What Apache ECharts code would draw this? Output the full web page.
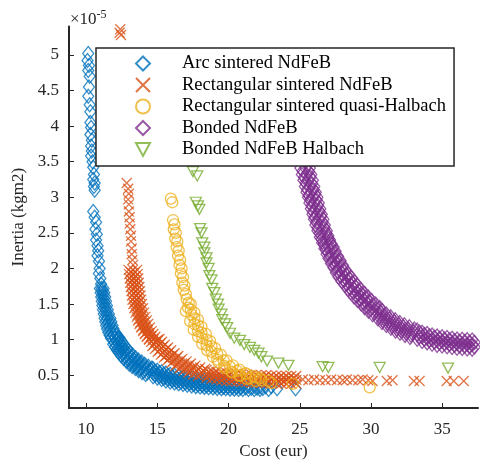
<!DOCTYPE html>
<html><head><meta charset="utf-8">
<script src="https://cdn.jsdelivr.net/npm/echarts@6/dist/echarts.min.js"></script>
<style>html,body{margin:0;padding:0;background:#fff}#c{width:480px;height:460px}</style>
</head><body><div id="c"></div>
<script>
const seriesNames = ['Arc sintered NdFeB','Rectangular sintered NdFeB','Rectangular sintered quasi-Halbach','Bonded NdFeB','Bonded NdFeB Halbach'];
const xTicks = [10,15,20,25,30,35];
const yTicks = [0.5,1,1.5,2,2.5,3,3.5,4,4.5,5];

const arcSintered = [
[10.15,5.02],[10.1,4.92],[10.2,4.85],[10.15,4.78],[10.25,4.7],[10.2,4.55],[10.15,4.42],[10.25,4.3],[10.3,4.2],[10.3,4.05],[10.35,3.98],[10.3,3.88],[10.4,3.8],[10.35,3.72],[10.4,3.65],[10.35,3.58],[10.45,3.5],[10.5,3.42],[10.55,3.32],[10.5,3.25],[10.6,3.2],[10.55,3.15],[10.6,3.1],[10.5,2.8],[10.6,2.72],[10.7,2.65],[10.65,2.55],[10.75,2.48],[10.7,2.4],[10.8,2.32],[10.85,2.25],[10.8,2.18],[10.9,2.1],[10.95,2.0],[10.9,1.93],[11.0,1.86],[11.05,1.78],
[11.1,1.72],[11.15,1.66],[11.2,1.6],[11.25,1.54],[11.3,1.48],[11.35,1.42],[11.42,1.36],[11.5,1.3],[11.56,1.25],[11.63,1.2],[11.7,1.15],[11.8,1.1],[11.9,1.06],[12.0,1.02],
[10.97,1.72],[11.02,1.66],[11.06,1.6],[11.1,1.54],[11.14,1.48],[11.18,1.42],[11.24,1.36],[11.3,1.3],[11.35,1.25],[11.41,1.2],[11.47,1.15],[11.56,1.1],[11.65,1.06],[11.75,1.02],
[11.23,1.72],[11.28,1.66],[11.34,1.6],[11.4,1.54],[11.46,1.48],[11.52,1.42],[11.6,1.36],[11.7,1.3],[11.77,1.25],[11.85,1.2],[11.93,1.15],[12.04,1.1],[12.15,1.06],[12.25,1.02],
[12.12,0.98],[12.25,0.94],[12.38,0.9],[12.52,0.86],[12.68,0.82],[12.85,0.78],[13.05,0.74],[13.25,0.7],[13.45,0.67],[13.68,0.64],[13.9,0.61],[14.15,0.58],[14.4,0.555],
[11.9,0.935],[12.03,0.895],[12.16,0.855],[12.3,0.815],[12.46,0.775],[12.63,0.735],[12.83,0.695],[13.03,0.655],[13.23,0.625],[13.46,0.595],[13.68,0.565],[13.93,0.535],[14.18,0.51],
[12.34,1.025],[12.47,0.985],[12.6,0.945],[12.74,0.905],[12.9,0.865],[13.07,0.825],[13.27,0.785],[13.47,0.745],[13.67,0.715],[13.9,0.685],[14.12,0.655],[14.37,0.625],[14.62,0.6],
[12.01,0.958],[12.14,0.918],[12.27,0.878],[12.41,0.838],[12.57,0.798],[12.74,0.758],[12.94,0.718],[13.14,0.678],[13.34,0.648],[13.57,0.618],[13.79,0.588],[14.04,0.558],[14.29,0.533],
[12.23,1.002],[12.36,0.962],[12.49,0.922],[12.63,0.882],[12.79,0.842],[12.96,0.802],[13.16,0.762],[13.36,0.722],[13.56,0.692],[13.79,0.662],[14.01,0.632],[14.26,0.602],[14.51,0.577],
[14.7,0.53],[15.0,0.51],[15.3,0.49],[15.6,0.47],[15.9,0.455],[16.2,0.44],[16.5,0.43],[16.8,0.42],[17.1,0.41],[17.4,0.4],[17.7,0.39],[18.0,0.385],[18.3,0.38],[18.6,0.375],[18.9,0.37],[19.2,0.365],[19.5,0.36],[19.8,0.36],[20.1,0.355],[20.4,0.355],[20.7,0.35],[21.0,0.35],[21.4,0.345],[21.8,0.345],[22.2,0.34],[22.6,0.34],[23.0,0.34],
[14.7,0.48],[15.0,0.46],[15.3,0.44],[15.6,0.42],[15.9,0.405],[16.2,0.39],[16.5,0.38],[16.8,0.37],[17.1,0.36],[17.4,0.35],[17.7,0.34],[18.0,0.335],[18.3,0.33],[18.6,0.325],[18.9,0.32],[19.2,0.315],[19.5,0.31],[19.8,0.31],[20.1,0.305],[20.4,0.305],[20.7,0.3],[21.0,0.3],[21.4,0.3],[21.8,0.3],[22.2,0.3],[22.8,0.3],[23.4,0.31],[24.7,0.31],
[14.7,0.59],[15.0,0.57],[15.3,0.55],[15.6,0.53],[15.9,0.515],[16.2,0.5],[16.5,0.49],[16.8,0.48],[17.1,0.47],[17.4,0.46],[17.7,0.45],[18.0,0.44],[18.3,0.435],[18.6,0.43],[18.9,0.425],[19.2,0.42],[19.5,0.415],[19.8,0.41],[20.1,0.41],[20.4,0.405],[20.7,0.4],[21.0,0.4],
[14.85,0.503],[15.15,0.483],[15.45,0.463],[15.75,0.443],[16.05,0.428],[16.35,0.413],[16.65,0.403],[16.95,0.393],[17.25,0.383],[17.55,0.373],[17.85,0.363],[18.15,0.358],[18.45,0.353],[18.75,0.348],[19.05,0.343],[19.35,0.338],[19.65,0.333],[19.95,0.333],[20.25,0.328],[20.55,0.328],[20.85,0.323],[21.2,0.323],[21.6,0.318],[22.0,0.318],[22.4,0.313],
[14.85,0.557],[15.15,0.537],[15.45,0.517],[15.75,0.497],[16.05,0.482],[16.35,0.467],[16.65,0.457],[16.95,0.447],[17.25,0.437],[17.55,0.427],[17.85,0.417],[18.15,0.412],[18.45,0.407],[18.75,0.402]
];

const rectSintered = [
[12.4,5.36],[12.45,5.28],[12.35,5.31],
[12.85,3.2],[12.95,3.12],[13.0,3.05],[12.95,2.97],[13.0,2.9],[13.0,2.8],[13.05,2.72],[13.05,2.63],[13.1,2.55],[13.15,2.46],[13.15,2.38],[13.2,2.28],[13.2,2.2],[13.25,2.12],[13.3,2.05],
[13.28,1.98],[13.32,1.92],[13.36,1.86],[13.4,1.8],[13.44,1.74],[13.48,1.68],[13.52,1.62],[13.56,1.56],[13.62,1.5],[13.69,1.44],[13.77,1.38],[13.86,1.32],[13.95,1.27],[14.05,1.22],[14.17,1.17],[14.3,1.12],[14.42,1.08],[14.56,1.04],[14.72,1.0],
[12.98,1.98],[13.02,1.92],[13.06,1.86],[13.1,1.8],[13.14,1.74],[13.18,1.68],[13.22,1.62],[13.26,1.56],[13.32,1.5],[13.39,1.44],[13.47,1.38],[13.56,1.32],[13.65,1.27],[13.75,1.22],[13.87,1.17],[14.0,1.12],[14.12,1.08],[14.26,1.04],[14.42,1.0],
[13.58,1.98],[13.62,1.92],[13.66,1.86],[13.7,1.8],[13.74,1.74],[13.78,1.68],[13.82,1.62],[13.86,1.56],[13.92,1.5],[13.99,1.44],[14.07,1.38],[14.16,1.32],[14.25,1.27],[14.35,1.22],[14.47,1.17],[14.6,1.12],[14.72,1.08],[14.86,1.04],[15.02,1.0],
[13.13,1.95],[13.17,1.89],[13.21,1.83],[13.25,1.77],[13.29,1.71],[13.33,1.65],[13.37,1.59],[13.41,1.53],[13.47,1.47],[13.54,1.41],[13.62,1.35],[13.71,1.29],[13.8,1.24],[13.9,1.19],[14.02,1.14],[14.15,1.09],[14.27,1.05],[14.41,1.01],[14.57,0.97],
[13.43,1.95],[13.47,1.89],[13.51,1.83],[13.55,1.77],[13.59,1.71],[13.63,1.65],[13.67,1.59],[13.71,1.53],[13.77,1.47],[13.84,1.41],[13.92,1.35],[14.01,1.29],[14.1,1.24],[14.2,1.19],[14.32,1.14],[14.45,1.09],[14.57,1.05],[14.71,1.01],[14.87,0.97],
[14.9,0.96],[15.08,0.92],[15.28,0.88],[15.5,0.84],[15.72,0.8],[15.96,0.76],[16.22,0.72],[16.5,0.68],[16.8,0.645],[17.1,0.615],[17.42,0.585],[17.75,0.56],[18.1,0.54],
[14.65,0.91],[14.83,0.87],[15.03,0.83],[15.25,0.79],[15.47,0.75],[15.71,0.71],[15.97,0.67],[16.25,0.63],[16.55,0.595],[16.85,0.565],[17.17,0.535],[17.5,0.51],[17.85,0.49],
[15.15,1.01],[15.33,0.97],[15.53,0.93],[15.75,0.89],[15.97,0.85],[16.21,0.81],[16.47,0.77],[16.75,0.73],[17.05,0.695],[17.35,0.665],[17.67,0.635],[18.0,0.61],[18.35,0.59],
[14.78,0.935],[14.96,0.895],[15.16,0.855],[15.38,0.815],[15.6,0.775],[15.84,0.735],[16.1,0.695],[16.38,0.655],[16.68,0.62],[16.98,0.59],[17.3,0.56],[17.63,0.535],[17.98,0.515],
[15.02,0.985],[15.2,0.945],[15.4,0.905],[15.62,0.865],[15.84,0.825],[16.08,0.785],[16.34,0.745],[16.62,0.705],[16.92,0.67],[17.22,0.64],[17.54,0.61],[17.87,0.585],[18.22,0.565],
[18.45,0.52],[18.8,0.505],[19.15,0.495],[19.5,0.485],[19.85,0.475],[20.2,0.47],[20.55,0.465],[20.9,0.46],[21.25,0.455],[21.6,0.45],[21.95,0.45],[22.3,0.445],[22.65,0.445],[23.0,0.44],[23.35,0.44],[23.7,0.44],[24.05,0.435],[24.4,0.435],[24.75,0.435],
[18.45,0.465],[18.8,0.45],[19.15,0.44],[19.5,0.43],[19.85,0.42],[20.2,0.415],[20.55,0.41],[20.9,0.405],[21.25,0.4],[21.6,0.395],[21.95,0.395],[22.3,0.39],[22.65,0.39],[23.0,0.385],[23.35,0.385],[23.7,0.385],[24.05,0.38],[24.4,0.38],[24.75,0.38],
[18.45,0.575],[18.8,0.56],[19.15,0.55],[19.5,0.54],[19.85,0.53],[20.2,0.525],[20.55,0.52],[20.9,0.515],[21.25,0.51],[21.6,0.505],[21.95,0.505],[22.3,0.5],[22.65,0.5],[23.0,0.495],[23.35,0.495],[23.7,0.495],[24.05,0.49],[24.4,0.49],[24.75,0.49],
[18.62,0.493],[18.97,0.478],[19.32,0.468],[19.67,0.458],[20.02,0.448],[20.37,0.443],[20.72,0.438],[21.07,0.433],[21.42,0.428],[21.77,0.423],[22.12,0.423],[22.47,0.418],[22.82,0.418],[23.17,0.413],[23.52,0.413],[23.87,0.413],[24.22,0.408],[24.57,0.408],
[18.62,0.547],[18.97,0.532],[19.32,0.522],[19.67,0.512],[20.02,0.502],[20.37,0.497],[20.72,0.492],[21.07,0.487],[21.42,0.482],[21.77,0.477],[22.12,0.477],[22.47,0.472],[22.82,0.472],[23.17,0.467],[23.52,0.467],[23.87,0.467],[24.22,0.462],[24.57,0.462],
[25.2,0.44],[25.6,0.43],[26.0,0.44],[26.4,0.43],[26.8,0.43],[27.2,0.44],[27.6,0.43],[28.0,0.43],[28.3,0.44],[28.7,0.43],[29.1,0.43],[29.4,0.44],[29.8,0.43],[30.1,0.42],[31.1,0.42],[31.5,0.43],[33.0,0.42],[33.4,0.42],[35.3,0.42],[35.8,0.42],[36.5,0.42]
];

const rectHalbach = [
[15.95,2.98],[16.05,2.93],[16.1,2.68],[16.2,2.62],[16.15,2.55],[16.3,2.5],[16.25,2.42],[16.4,2.38],[16.35,2.3],[16.5,2.25],[16.45,2.18],[16.6,2.12],[16.55,2.05],[16.7,2.0],[16.65,1.93],[16.8,1.88],[16.75,1.8],[16.9,1.76],[16.85,1.7],[17.0,1.64],[17.05,1.57],[17.2,1.52],[17.15,1.45],[17.35,1.42],[17.4,1.35],[17.6,1.3],[17.6,1.22],[17.85,1.2],[17.85,1.12],[18.1,1.1],[18.15,1.02],[18.45,1.0],[18.45,0.92],[18.8,0.91],[18.8,0.83],[19.2,0.8],[19.2,0.72],[19.65,0.71],[19.7,0.63],[20.1,0.62],[20.2,0.55],[20.6,0.56],[20.8,0.5],[21.2,0.52],[21.5,0.46],[21.9,0.47],[22.3,0.43],[22.8,0.42],[23.0,0.39],[24.5,0.38],[29.9,0.33],
[17.35,1.5],[17.6,1.38],[17.85,1.28],[18.1,1.18],[18.4,1.08],[18.7,0.98],[19.05,0.88],[19.45,0.79],[19.85,0.71],[20.3,0.64],[20.75,0.58],[21.2,0.53],[21.7,0.49],[22.2,0.46],
[17.0,1.4],[17.3,1.26],[17.55,1.14],[17.85,1.04],[18.15,0.94],[18.5,0.85],[18.9,0.76],[19.3,0.68],[19.75,0.6],[20.25,0.54],[20.75,0.49],[21.3,0.45],[21.9,0.42]
];

const bonded = [
[25.37,3.41],[25.47,3.32],[25.58,3.24],[25.68,3.15],[25.79,3.07],[25.9,3.0],[26.0,2.92],[26.1,2.84],[26.21,2.76],[26.32,2.69],[26.42,2.61],[26.56,2.53],[26.7,2.45],[26.84,2.38],[26.98,2.31],
[27.12,2.25],[27.26,2.19],[27.43,2.12],[27.61,2.06],[27.78,1.99],[27.96,1.93],[28.17,1.87],[28.39,1.82],[28.6,1.76],[28.81,1.71],[29.05,1.65],[29.3,1.6],[29.55,1.55],[29.79,1.5],[30.07,1.45],[30.35,1.4],
[30.63,1.35],[30.91,1.3],[31.22,1.26],[31.54,1.22],[31.86,1.18],[32.18,1.15],[32.53,1.12],[32.88,1.09],
[33.23,1.07],[33.58,1.04],[33.93,1.02],[34.28,1.0],[34.63,0.985],[34.98,0.975],[35.33,0.965],[35.68,0.955],[36.03,0.945],[36.39,0.94],[36.74,0.935],[37.09,0.93],
[25.04,3.41],[25.14,3.32],[25.25,3.24],[25.35,3.15],[25.46,3.07],[25.57,3.0],[25.67,2.92],[25.77,2.84],[25.88,2.76],[25.99,2.69],[26.09,2.61],[26.23,2.53],[26.4,2.44],[26.56,2.36],[26.72,2.28],
[25.7,3.41],[25.8,3.32],[25.91,3.24],[26.01,3.15],[26.12,3.07],[26.23,3.0],[26.33,2.92],[26.43,2.84],[26.54,2.76],[26.65,2.69],[26.75,2.61],[26.89,2.53],[27.0,2.46],[27.12,2.4],[27.24,2.34],
[25.2,3.37],[25.3,3.28],[25.41,3.2],[25.51,3.11],[25.62,3.03],[25.73,2.96],[25.83,2.88],[25.93,2.8],[26.04,2.72],[26.15,2.65],[26.25,2.57],[26.39,2.49],[26.53,2.41],[26.67,2.34],[26.81,2.27],
[25.54,3.45],[25.64,3.36],[25.75,3.28],[25.85,3.19],[25.96,3.11],[26.07,3.04],[26.17,2.96],[26.27,2.88],[26.38,2.8],[26.49,2.73],[26.59,2.65],[26.73,2.57],[26.87,2.49],[27.01,2.42],[27.15,2.35],
[26.87,2.2],[27.01,2.14],[27.18,2.07],[27.36,2.01],[27.53,1.94],[27.71,1.88],[27.92,1.82],[28.14,1.77],[28.35,1.71],[28.56,1.66],[28.8,1.6],[29.05,1.55],[29.3,1.5],[29.54,1.45],[29.82,1.4],[30.1,1.35],
[27.37,2.3],[27.51,2.24],[27.68,2.17],[27.86,2.11],[28.03,2.04],[28.21,1.98],[28.42,1.92],[28.64,1.87],[28.85,1.81],[29.06,1.76],[29.3,1.7],[29.55,1.65],[29.8,1.6],[30.04,1.55],[30.32,1.5],[30.6,1.45],
[27.0,2.22],[27.14,2.16],[27.31,2.09],[27.49,2.03],[27.66,1.96],[27.84,1.9],[28.05,1.84],[28.27,1.79],[28.48,1.73],[28.69,1.68],[28.93,1.62],[29.18,1.57],[29.43,1.52],[29.67,1.47],[29.95,1.42],[30.23,1.37],
[27.24,2.28],[27.38,2.22],[27.55,2.15],[27.73,2.09],[27.9,2.02],[28.08,1.96],[28.29,1.9],[28.51,1.85],[28.72,1.79],[28.93,1.74],[29.17,1.68],[29.42,1.63],[29.67,1.58],[29.91,1.53],[30.19,1.48],[30.47,1.43],
[30.48,1.29],[30.76,1.24],[31.07,1.2],[31.39,1.16],[31.71,1.12],[32.03,1.09],[32.38,1.06],[32.73,1.03],
[30.78,1.41],[31.06,1.36],[31.37,1.32],[31.69,1.28],[32.01,1.24],[32.33,1.21],[32.68,1.18],[33.03,1.15],
[30.56,1.32],[30.84,1.27],[31.15,1.23],[31.47,1.19],[31.79,1.15],[32.11,1.12],[32.46,1.09],[32.81,1.06],
[30.7,1.38],[30.98,1.33],[31.29,1.29],[31.61,1.25],[31.93,1.21],[32.25,1.18],[32.6,1.15],[32.95,1.12],
[33.23,1.005],[33.58,0.975],[33.93,0.955],[34.28,0.935],[34.63,0.92],[34.98,0.91],[35.33,0.9],[35.68,0.89],[36.03,0.88],[36.39,0.875],[36.74,0.87],[37.09,0.865],
[33.23,1.135],[33.58,1.105],[33.93,1.085],[34.28,1.065],[34.63,1.05],[34.98,1.04],[35.33,1.03],[35.68,1.02],[36.03,1.01],[36.39,1.005],[36.74,1.0],[37.09,0.995],
[33.4,1.037],[33.75,1.007],[34.1,0.987],[34.45,0.967],[34.8,0.952],[35.15,0.942],[35.5,0.932],[35.85,0.922],[36.2,0.912],[36.56,0.907],[36.91,0.902],[37.26,0.897],
[33.4,1.103],[33.75,1.073],[34.1,1.053],[34.45,1.033],[34.8,1.018],[35.15,1.008],[35.5,0.998],[35.85,0.988],[36.2,0.978],[36.56,0.973],[36.91,0.968],[37.26,0.963]
];

const bondedHalbach = [
[17.5,3.36],[17.8,3.3],[17.7,2.93],[17.85,2.88],[17.95,2.83],[18.0,2.56],[18.1,2.5],[18.15,2.36],[18.3,2.3],[18.3,2.22],[18.45,2.15],[18.45,2.08],[18.6,2.0],[18.65,1.9],[18.8,1.84],[18.85,1.72],[19.0,1.66],[19.1,1.57],[19.25,1.5],[19.3,1.43],[19.5,1.36],[19.55,1.28],[19.75,1.22],[19.9,1.17],[20.1,1.09],[20.4,1.02],[20.8,0.99],[21.1,0.93],[21.5,0.89],[21.8,0.85],[22.1,0.81],[22.3,0.76],[22.7,0.7],[23.5,0.67],[24.2,0.64],[26.6,0.62],[27.0,0.61],[30.6,0.61],[35.4,0.6]
];

const colors = ['#0072BD','#D95319','#EDB120','#7E2F8E','#77AC30'];
const FONT = 'Liberation Serif';
const DOWN_TRIANGLE = 'path://M0,0L12,0L6,11Z';

function sc(name, data, color, symbol, size, rotate) {
  return {
    type: 'scatter', name: name, data: data, symbol: symbol, symbolSize: size,
    symbolRotate: rotate || 0,
    itemStyle: { color: 'rgba(255,255,255,0)', borderColor: color, borderWidth: 1.3 },
    emphasis: { disabled: true }, animation: false
  };
}

const chart = echarts.init(document.getElementById('c'));
chart.setOption({
  animation: false,
  grid: { left: 69, right: 2, top: 26.4, bottom: 52, containLabel: false, outerBoundsMode: 'none' },
  xAxis: {
    type: 'value', min: 8.8, max: 37.5,
    name: 'Cost (eur)', nameLocation: 'middle', nameGap: 35,
    nameTextStyle: { fontFamily: FONT, fontSize: 17, color: '#262626' },
    axisLine: { show: true, onZero: false, lineStyle: { color: '#262626', width: 2 } },
    axisTick: { show: true, inside: true, length: 5, customValues: xTicks, lineStyle: { color: '#262626', width: 1 } },
    axisLabel: { customValues: xTicks, margin: 13, fontFamily: FONT, fontSize: 17, color: '#262626' },
    splitLine: { show: false }
  },
  yAxis: {
    type: 'value', min: 0.04, max: 5.4,
    name: 'Inertia (kgm2)', nameLocation: 'middle', nameGap: 39, nameRotate: 90,
    nameTextStyle: { fontFamily: FONT, fontSize: 17, color: '#262626' },
    axisLine: { show: true, onZero: false, lineStyle: { color: '#262626', width: 2 } },
    axisTick: { show: true, inside: true, length: 5, customValues: yTicks, lineStyle: { color: '#262626', width: 1 } },
    axisLabel: { customValues: yTicks, margin: 10, fontFamily: FONT, fontSize: 17, color: '#262626' },
    splitLine: { show: false }
  },
  legend: {
    orient: 'vertical', left: 96, top: 48,
    padding: [6, 8, 7, 39],
    itemWidth: 14, itemHeight: 14, itemGap: 2.5, symbolKeepAspect: true,
    backgroundColor: '#fff', borderColor: '#262626', borderWidth: 1.5,
    textStyle: { fontFamily: FONT, fontSize: 18.5, color: '#000', padding: [0, 0, 0, 27] },
    data: [seriesNames[0], seriesNames[1], seriesNames[2], seriesNames[3], { name: seriesNames[4], icon: DOWN_TRIANGLE }],
    selectedMode: false
  },
  graphic: [{
    type: 'text', left: 70, top: 9,
    style: { text: '{a|×10}{b|-5}', fill: '#262626',
      rich: { a: { fontFamily: FONT, fontSize: 17, fill: '#262626' },
              b: { fontFamily: FONT, fontSize: 12, fill: '#262626', padding: [0,0,9,0] } } }
  }],
  series: [
    sc(seriesNames[0], arcSintered, colors[0], 'diamond', [11,14]),
    sc(seriesNames[1], rectSintered, colors[1], 'path://M0,0L10,10M10,0L0,10', [10,10]),
    sc(seriesNames[2], rectHalbach, colors[2], 'circle', 11),
    sc(seriesNames[3], bonded, colors[3], 'diamond', [11,14]),
    sc(seriesNames[4], bondedHalbach, colors[4], 'triangle', [11,10], 180)
  ]
});
</script></body></html>
